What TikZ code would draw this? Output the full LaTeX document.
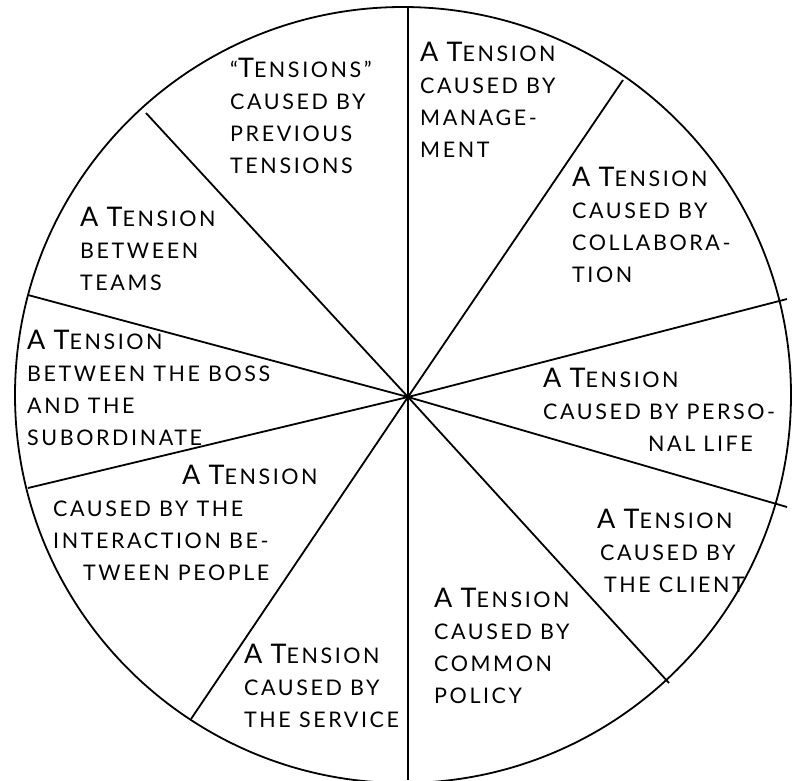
\documentclass[tikz,border=0pt]{standalone}
\usepackage{fontspec}
\setmainfont{Lato}[LetterSpace=12]
\usepackage{tikz}
\newcommand\bigc[1]{{\fontsize{27}{32}\selectfont #1}}
\newcommand\aten{\bigc{A} \bigc{T}ENSION}

\begin{document}
\begin{tikzpicture}[x=1pt,y=-1pt]
\tikzset{lbl/.style={anchor=base west,align=left,inner sep=0pt,font=\fontsize{21.5}{32}\selectfont}, spoke/.style={line width=1.8pt}}
\useasboundingbox (0,0) rectangle (792,780);
\draw[line width=1.8pt] (403,395) circle (388);
\coordinate (c) at (408,397);
\draw[line width=2.4pt] (408,8)--(c)--(408,780);
\draw[spoke] (146,113)--(c)--(669,683);
\draw[spoke] (623,80)--(c)--(191,719);
\draw[spoke] (28,295)--(c)--(787,507);
\draw[spoke] (28,488)--(c)--(787,299);
% labels, placed at the baseline of their last line
\node[lbl] (prev) at (230,173) {``\bigc{T}ENSIONS''\\CAUSED BY\\PREVIOUS\\TENSIONS};
\node[lbl] (mgmt) at (420,157) {\aten\\CAUSED BY\\MANAGE-\\MENT};
\node[lbl] (collab) at (572,282) {\aten\\CAUSED BY\\COLLABORA-\\TION};
\node[lbl] (personal) at (543,451) {\aten\\CAUSED BY PERSO-\\\hspace*{105pt}NAL LIFE};
\node[lbl] (client) at (597,592) {\aten\\\hspace*{3pt}CAUSED BY\\\hspace*{7pt}THE CLIENT};
\node[lbl] (policy) at (434,703) {\aten\\CAUSED BY\\COMMON\\POLICY};
\node[lbl] (service) at (244,727) {\aten\\CAUSED BY\\THE SERVICE};
\node[lbl] (interact) at (53,580) {\hspace*{129pt}\aten\\CAUSED BY THE\\INTERACTION BE-\\\hspace*{30pt}TWEEN PEOPLE};
\node[lbl] (boss) at (27,445) {\aten\\BETWEEN THE BOSS\\AND THE\\SUBORDINATE};
\node[lbl] (teams) at (80,290) {\aten\\BETWEEN\\TEAMS};
\end{tikzpicture}
\end{document}
